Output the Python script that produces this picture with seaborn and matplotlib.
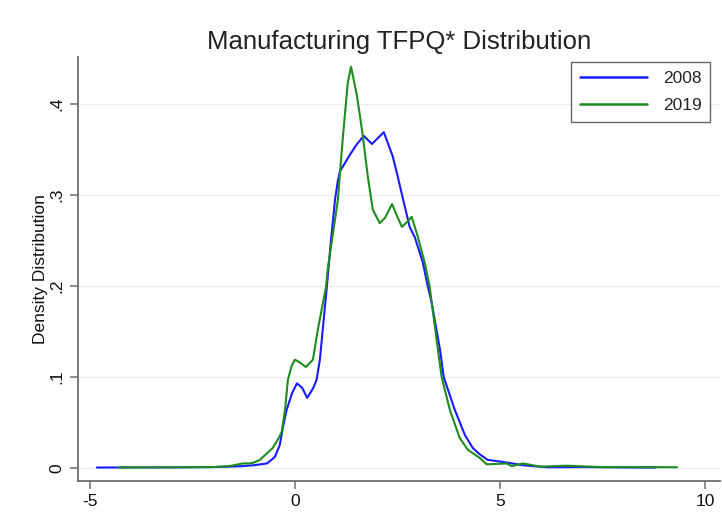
import matplotlib
matplotlib.use("Agg")
import matplotlib.pyplot as plt
import seaborn as sns
import pandas as pd

# ---- data ----
x_2008 = [-4.83, -4.0, -3.0, -2.0, -1.6, -1.3, -1.0, -0.68, -0.49, -0.37, -0.29, -0.2,
          -0.07, 0.05, 0.18, 0.3, 0.45, 0.53, 0.61, 0.68, 0.78, 0.88, 0.98, 1.05, 1.1, 1.34,
          1.5, 1.68, 1.88, 2.17, 2.39, 2.5, 2.63, 2.8, 2.93, 3.12, 3.24, 3.34, 3.54,
          3.63, 3.78, 3.9, 4.15, 4.34, 4.51, 4.7, 5.17, 5.56, 6.15, 7.0, 8.0, 8.8]
y_2008 = [0.0005, 0.0006, 0.0007, 0.001, 0.0015, 0.002, 0.003, 0.005, 0.012, 0.025, 0.045, 0.064,
          0.082, 0.093, 0.088, 0.077, 0.088, 0.097, 0.119, 0.152, 0.199, 0.25, 0.295, 0.316, 0.326, 0.344,
          0.355, 0.365, 0.356, 0.369, 0.342, 0.322, 0.297, 0.265, 0.253, 0.226, 0.20, 0.181, 0.13,
          0.10, 0.08, 0.064, 0.036, 0.022, 0.015, 0.009, 0.006, 0.003, 0.0008, 0.001, 0.0006, 0.0005]

x_2019 = [-4.3, -3.0, -2.0, -1.6, -1.27, -1.1, -1.0, -0.85, -0.78, -0.54, -0.38, -0.32, -0.24,
          -0.17, -0.08, 0.0, 0.12, 0.27, 0.44, 0.56, 0.76, 0.8, 1.05, 1.1, 1.17, 1.29, 1.37,
          1.51, 1.59, 1.66, 1.78, 1.9, 2.07, 2.2, 2.37, 2.5, 2.61, 2.73, 2.85, 3.0, 3.17, 3.29,
          3.34, 3.49, 3.58, 3.78, 4.02, 4.22, 4.51, 4.68, 5.17, 5.29, 5.56, 5.98, 6.63, 7.5,
          8.5, 9.32]
y_2019 = [0.0006, 0.0007, 0.001, 0.002, 0.005, 0.005, 0.006, 0.009, 0.012, 0.022, 0.034, 0.04, 0.064,
          0.097, 0.112, 0.119, 0.116, 0.111, 0.119, 0.152, 0.199, 0.218, 0.295, 0.324, 0.363, 0.423, 0.441,
          0.41, 0.386, 0.364, 0.32, 0.284, 0.269, 0.275, 0.29, 0.276, 0.265, 0.27, 0.276, 0.254, 0.225, 0.199,
          0.181, 0.13, 0.10, 0.064, 0.033, 0.02, 0.011, 0.004, 0.005, 0.002, 0.005, 0.0015, 0.0025, 0.001,
          0.001, 0.0008]

series_names = ["2008", "2019"]
x_ticks = [-5, 0, 5, 10]
x_tick_labels = ["-5", "0", "5", "10"]
y_ticks = [0, 0.1, 0.2, 0.3, 0.4]
y_tick_labels = ["0", ".1", ".2", ".3", ".4"]
title_text = "Manufacturing TFPQ* Distribution"
y_label = "Density Distribution"

df = pd.concat([
    pd.DataFrame({"x": x_2008, "density": y_2008, "year": series_names[0]}),
    pd.DataFrame({"x": x_2019, "density": y_2019, "year": series_names[1]}),
], ignore_index=True)

sns.set_style("white")
plt.rcParams["font.family"] = ["Liberation Sans", "DejaVu Sans"]

fig = plt.figure(figsize=(7.22, 5.12), dpi=100)
ax = fig.add_axes([78 / 722, 1 - 481 / 512, (720 - 78) / 722, (481 - 57) / 512])

palette = {"2008": "#1a1aff", "2019": "#1e8c1e"}
sns.lineplot(data=df, x="x", y="density", hue="year", palette=palette,
             linewidth=1.5, sort=False, ax=ax, estimator=None)

ax.set_xlim(-5.29, 10.37)
ax.set_ylim(-0.0143, 0.4516)
ax.set_xticks(x_ticks)
ax.set_xticklabels(x_tick_labels)
ax.set_yticks(y_ticks)
ax.set_yticklabels(y_tick_labels, rotation=90, va="center")
ax.grid(axis="y", color="#e8eff0", linewidth=1.0)
ax.set_axisbelow(True)

for side in ["top", "right"]:
    ax.spines[side].set_visible(False)
for side in ["left", "bottom"]:
    ax.spines[side].set_color("#6e6e6e")
    ax.spines[side].set_linewidth(1.3)

ax.tick_params(axis="both", which="major", direction="out", length=5.5, width=1.1,
               color="#6e6e6e", labelsize=12.5, labelcolor="#111111", pad=4,
               bottom=True, left=True)
ax.set_xlabel("")
ax.set_ylabel(y_label, fontsize=12.5, color="#111111", labelpad=1)
ax.set_title(title_text, fontsize=18.5, color="#222222", pad=6)

leg = ax.legend(title=None, loc="upper right", bbox_to_anchor=(0.985, 0.988),
                fontsize=12.5, frameon=True, fancybox=False, handlelength=3.9,
                labelspacing=0.7, borderpad=0.5, handletextpad=0.9,
                borderaxespad=0.0)
leg.get_frame().set_edgecolor("#404040")
leg.get_frame().set_linewidth(1.0)
for line in leg.get_lines():
    line.set_linewidth(1.8)

fig.savefig("out.png", dpi=100, facecolor="white")
